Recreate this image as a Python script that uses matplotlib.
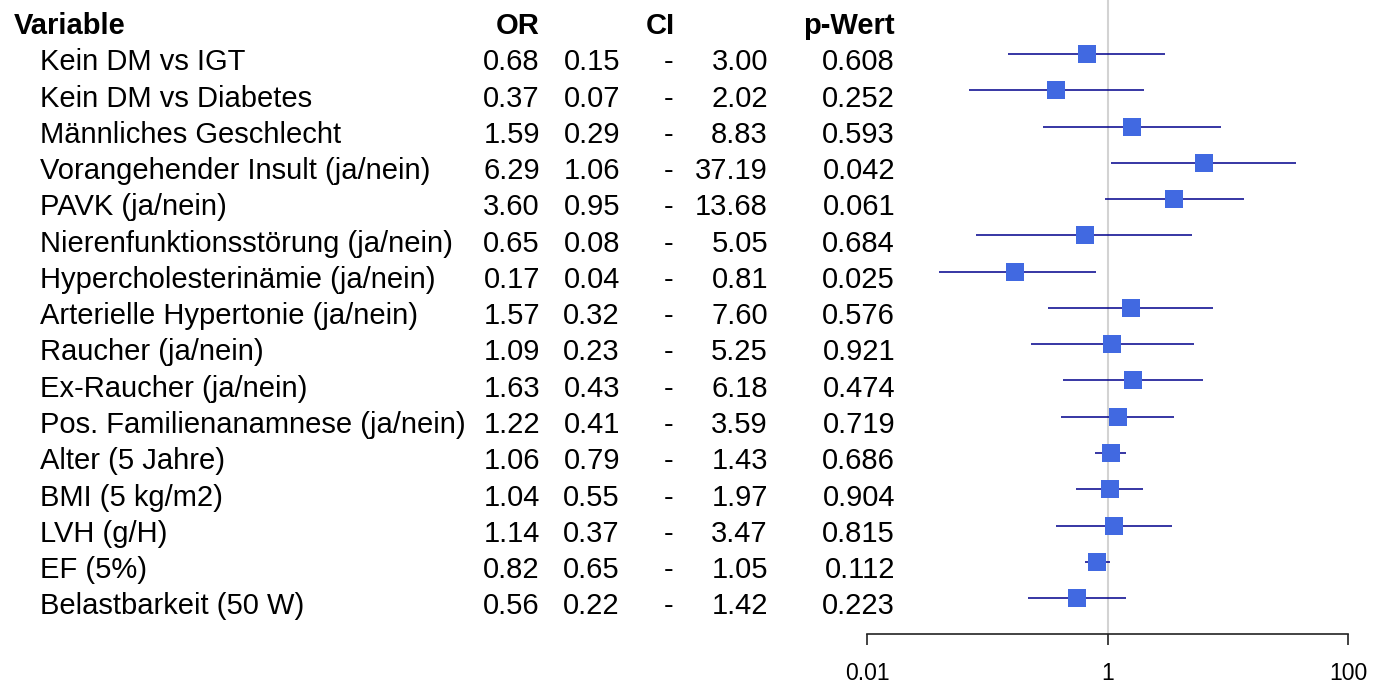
import numpy as np
import matplotlib
matplotlib.use("Agg")
import matplotlib.pyplot as plt
from matplotlib.transforms import blended_transform_factory

plt.rcParams['font.family'] = ['Liberation Sans', 'DejaVu Sans']

# Daten aus der Tabelle
variables = ["Kein DM vs IGT", "Kein DM vs Diabetes", "Männliches Geschlecht",
             "Vorangehender Insult (ja/nein)", "PAVK (ja/nein)",
             "Nierenfunktionsstörung (ja/nein)", "Hypercholesterinämie (ja/nein)",
             "Arterielle Hypertonie (ja/nein)", "Raucher (ja/nein)",
             "Ex-Raucher (ja/nein)", "Pos. Familienanamnese (ja/nein)",
             "Alter (5 Jahre)", "BMI (5 kg/m2)", "LVH (g/H)", "EF (5%)",
             "Belastbarkeit (50 W)"]
odds_ratio = [0.68, 0.37, 1.59, 6.29, 3.60, 0.65, 0.17, 1.57, 1.09, 1.63, 1.22,
              1.06, 1.04, 1.14, 0.82, 0.56]
ci_lower = [0.15, 0.07, 0.29, 1.06, 0.95, 0.08, 0.04, 0.32, 0.23, 0.43, 0.41,
            0.79, 0.55, 0.37, 0.65, 0.22]
ci_upper = [3.00, 2.02, 8.83, 37.19, 13.68, 5.05, 0.81, 7.60, 5.25, 6.18, 3.59,
            1.43, 1.97, 3.47, 1.05, 1.42]
p_values = ["0.608", "0.252", "0.593", "0.042", "0.061", "0.684", "0.025", "0.576",
            "0.921", "0.474", "0.719", "0.686", "0.904", "0.815", "0.112", "0.223"]
x_ticks = [0.01, 1, 100]

W, H = 1378, 685
fig = plt.figure(figsize=(W / 100, H / 100), dpi=100)

# Forest-Plot Achse (Pixel aus der Vorlage)
ax = fig.add_axes([867 / W, 1 - 634 / H, (1348 - 867) / W, 634 / H])
rows = np.arange(len(variables))
row_px = 36.27
ax.set_xscale('log')
ax.set_xlim(0.01, 100)
ax.set_ylim(580 / row_px, -54 / row_px)

ax.axvline(1, color='#d3d3d3', lw=1.5, zorder=0)
or_arr = np.array(odds_ratio)
xerr = [or_arr - np.array(ci_lower), np.array(ci_upper) - or_arr]
ax.errorbar(or_arr, rows, xerr=xerr, fmt='s', color='#4169E1', ecolor='#00008B',
            elinewidth=1.1, capsize=0, markersize=13, markeredgewidth=0, zorder=3)

for s in ['top', 'left', 'right']:
    ax.spines[s].set_visible(False)
ax.spines['bottom'].set_color('#222222')
ax.spines['bottom'].set_linewidth(1.2)
ax.set_yticks([])
ax.set_xticks(x_ticks)
ax.set_xticklabels(["0.01", "1", "100"])
ax.xaxis.set_minor_locator(matplotlib.ticker.NullLocator())
ax.tick_params(axis='x', direction='out', length=8, width=1.2, color='#222222',
               labelsize=16.5, pad=12)

# Tabelle links
tr = blended_transform_factory(fig.transFigure, ax.transData)
fs = 21
off = 0.45

def px(x):
    return x / W

fig.text(px(14), -1 + off, "Variable", transform=tr, fontsize=fs, fontweight='bold', ha='left', va='baseline')
fig.text(px(540), -1 + off, "OR", transform=tr, fontsize=fs, fontweight='bold', ha='right', va='baseline')
fig.text(px(660), -1 + off, "CI", transform=tr, fontsize=fs, fontweight='bold', ha='center', va='baseline')
fig.text(px(895), -1 + off, "p-Wert", transform=tr, fontsize=fs, fontweight='bold', ha='right', va='baseline')

for i, name in enumerate(variables):
    y = i + off
    fig.text(px(40), y, name, transform=tr, fontsize=fs, ha='left', va='baseline')
    fig.text(px(540), y, f"{odds_ratio[i]:.2f}", transform=tr, fontsize=fs, ha='right', va='baseline')
    fig.text(px(620), y, f"{ci_lower[i]:.2f}", transform=tr, fontsize=fs, ha='right', va='baseline')
    fig.text(px(669), y, "-", transform=tr, fontsize=fs, ha='center', va='baseline')
    fig.text(px(768), y, f"{ci_upper[i]:.2f}", transform=tr, fontsize=fs, ha='right', va='baseline')
    fig.text(px(895), y, p_values[i], transform=tr, fontsize=fs, ha='right', va='baseline')

fig.savefig("out.png", dpi=100)
